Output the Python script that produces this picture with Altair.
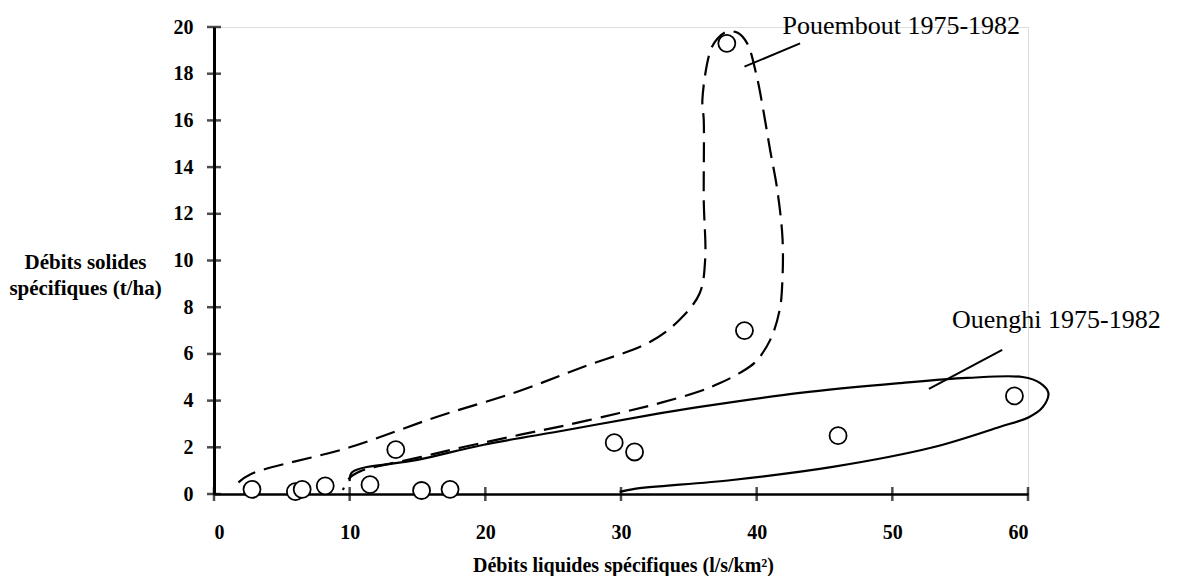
import altair as alt
import pandas as pd

# Observations (x: l/s/km², y: t/ha)
pt_x = [2.8, 6.0, 6.5, 8.2, 11.5, 13.4, 15.3, 17.4, 29.5, 31.0, 37.8, 39.1, 46.0, 59.0]
pt_y = [0.2, 0.1, 0.2, 0.35, 0.4, 1.9, 0.15, 0.2, 2.2, 1.8, 19.3, 7.0, 2.5, 4.2]

# Pouembout envelope (dashed)
pou_x = [1.8, 2.7, 10.0, 16.4, 22.3, 27.2, 32.1, 34.3, 35.8, 36.2, 36.1, 36.1, 36.0, 36.6,
         37.1, 37.8, 38.6, 39.3, 40.0, 40.5, 41.0, 41.5, 41.9, 41.9, 41.7, 41.0, 39.9, 38.8,
         37.3, 35.8, 32.9, 29.9, 26.0, 22.5, 18.3, 15.2, 12.2, 10.8, 10.0, 9.5]
pou_y = [0.5, 0.85, 2.0, 3.3, 4.37, 5.44, 6.5, 7.45, 8.6, 10.0, 12.6, 16.0, 16.9, 19.0,
         19.5, 19.8, 19.75, 19.3, 17.9, 16.4, 14.7, 13.1, 11.0, 9.2, 7.9, 6.6, 5.65, 5.2,
         4.75, 4.4, 3.9, 3.47, 2.95, 2.53, 2.0, 1.58, 1.2, 0.98, 0.69, 0.17]

# Ouenghi envelope (solid)
oue_x = [10.0, 10.2, 15.0, 19.8, 26.0, 32.1, 35.8, 43.2, 50.6, 55.5, 59.6, 60.9, 61.5,
         61.1, 60.1, 57.9, 53.0, 45.6, 38.2, 30.9, 29.9]
oue_y = [0.55, 0.94, 1.46, 2.1, 2.74, 3.38, 3.73, 4.33, 4.75, 4.97, 5.01, 4.75, 4.33,
         3.73, 3.3, 2.87, 2.0, 1.16, 0.6, 0.21, 0.09]

# Labels (baseline positions) and leader lines
lab_text = ["Pouembout 1975-1982", "Ouenghi 1975-1982"]
lab_x = [41.9, 54.4]
lab_y = [19.72, 7.11]
lead_x = [39.1, 52.7]
lead_y = [18.3, 4.5]
lead_x2 = [43.2, 58.1]
lead_y2 = [19.3, 6.17]

x_ticks = [0, 10, 20, 30, 40, 50, 60]
y_ticks = [0, 2, 4, 6, 8, 10, 12, 14, 16, 18, 20]

FONT = "Liberation Serif"

pts = pd.DataFrame({"x": pt_x, "y": pt_y})
pou = pd.DataFrame({"x": pou_x, "y": pou_y, "i": range(len(pou_x))})
oue = pd.DataFrame({"x": oue_x, "y": oue_y, "i": range(len(oue_x))})
labs = pd.DataFrame({"t": lab_text, "x": lab_x, "y": lab_y})
leads = pd.DataFrame({"x": lead_x, "y": lead_y, "x2": lead_x2, "y2": lead_y2})
xt = pd.DataFrame({"x": x_ticks, "y": [0] * len(x_ticks)})
yt = pd.DataFrame({"y": y_ticks, "x": [0] * len(y_ticks)})

xscale = alt.Scale(domain=[0, 60], nice=False, zero=False)
yscale = alt.Scale(domain=[0, 20], nice=False, zero=False)

xaxis = alt.Axis(values=x_ticks, grid=False, ticks=False, domainColor="black", domainWidth=2.5,
                 labelFont=FONT, labelFontWeight="bold", labelFontSize=20, labelColor="black",
                 labelPadding=28,
                 title="Débits liquides spécifiques (l/s/km²)", titleFont=FONT,
                 titleFontWeight="bold", titleFontSize=20, titleColor="black",
                 titleX=409, titleY=71, titleAlign="center", titleBaseline="middle")
yaxis = alt.Axis(values=y_ticks, grid=False, ticks=False, domainColor="black", domainWidth=3,
                 labelFont=FONT, labelFontWeight="bold", labelFontSize=20, labelColor="black",
                 labelPadding=21,
                 title=["Débits solides", "spécifiques (t/ha)"], titleFont=FONT,
                 titleFontWeight="bold", titleFontSize=21, titleColor="black",
                 titleAngle=0, titleAlign="center", titleBaseline="middle",
                 titleX=-129, titleY=235, titleLineHeight=26)

base_x = alt.X("x:Q", scale=xscale, axis=xaxis)
base_y = alt.Y("y:Q", scale=yscale, axis=yaxis)

pou_line = alt.Chart(pou).mark_line(
    color="black", strokeWidth=2.2, strokeDash=[20, 9], interpolate="catmull-rom"
).encode(x=base_x, y=base_y, order="i:Q")

oue_line = alt.Chart(oue).mark_line(
    color="black", strokeWidth=2.2, interpolate="catmull-rom"
).encode(x=alt.X("x:Q", scale=xscale), y=alt.Y("y:Q", scale=yscale), order="i:Q")

lead = alt.Chart(leads).mark_rule(color="black", strokeWidth=2).encode(
    x=alt.X("x:Q", scale=xscale), y=alt.Y("y:Q", scale=yscale), x2="x2:Q", y2="y2:Q")

xtick = alt.Chart(xt).mark_tick(orient="vertical", size=14, thickness=2.5, color="black").encode(
    x=alt.X("x:Q", scale=xscale), y=alt.Y("y:Q", scale=yscale))
ytick = alt.Chart(yt).mark_tick(orient="horizontal", size=14, thickness=2.5, color="black").encode(
    x=alt.X("x:Q", scale=xscale), y=alt.Y("y:Q", scale=yscale))

points = alt.Chart(pts).mark_point(
    shape="circle", size=290, filled=False, fill="white", fillOpacity=1,
    stroke="black", strokeWidth=1.8, opacity=1
).encode(x=alt.X("x:Q", scale=xscale), y=alt.Y("y:Q", scale=yscale))

texts = alt.Chart(labs).mark_text(
    align="left", baseline="alphabetic", font=FONT, fontSize=26, color="black"
).encode(x=alt.X("x:Q", scale=xscale), y=alt.Y("y:Q", scale=yscale), text="t:N")

chart = alt.layer(pou_line, oue_line, lead, xtick, ytick, points, texts).properties(
    width=814, height=467,
    autosize=alt.AutoSizeParams(type="none"),
    padding={"left": 206, "top": 19, "right": 150, "bottom": 82},
).configure_view(stroke=None).configure(background="white")

chart.save("out.html", embed_options={"renderer": "svg", "actions": False})
